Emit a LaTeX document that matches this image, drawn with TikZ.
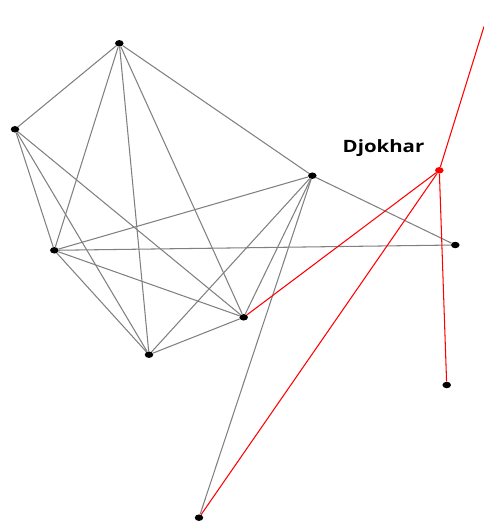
\documentclass[tikz,border=0pt]{standalone}
\usepackage{fontspec}
\usepackage{graphicx}
\usetikzlibrary{shapes.geometric}
\usetikzlibrary{positioning}
\newfontfamily\labelfont{Open Sans}
\tikzstyle{person}=[ellipse, fill=black, draw=none, inner sep=0pt, minimum width=8.5pt, minimum height=6.5pt]
\tikzstyle{suspect}=[person, fill=red]
\tikzstyle{tie}=[draw=black!50, line width=1.05pt]
\tikzstyle{redtie}=[draw=red, line width=1.05pt]
\begin{document}
\begin{tikzpicture}[x=1pt, y=-1pt]
          \useasboundingbox (0,0) rectangle (484,522);
          \node[person] (p0) at (119.3,43.3){};
          \node[person] (p1) at (15,129.3){};
          \node[person] (p2) at (312.3,175.7){};
          \node[suspect] (djokhar) at (439.3,170.3){};
          \node[person] (p3) at (455.3,245){};
          \node[person] (p4) at (54.3,250.3){};
          \node[person] (p5) at (243.7,317.3){};
          \node[person] (p6) at (149,354.7){};
          \node[person] (p7) at (446.7,385){};
          \node[person] (p8) at (199,517.7){};
          \coordinate (out) at (484,26.5);
          \node[inner sep=0pt] (name) at (383.5,148.3){\scalebox{1.2}[1]{\labelfont\bfseries\fontsize{17}{17}\selectfont Djokhar}};
          \draw[tie](p0) -- (p1);
          \draw[tie](p0) -- (p2);
          \draw[tie](p0) -- (p4);
          \draw[tie](p0) -- (p6);
          \draw[tie](p0) -- (p5);
          \draw[tie](p1) -- (p4);
          \draw[tie](p1) -- (p6);
          \draw[tie](p1) -- (p5);
          \draw[tie](p4) -- (p2);
          \draw[tie](p4) -- (p3);
          \draw[tie](p4) -- (p5);
          \draw[tie](p4) -- (p6);
          \draw[tie](p2) -- (p3);
          \draw[tie](p2) -- (p5);
          \draw[tie](p2) -- (p6);
          \draw[tie](p2) -- (p8);
          \draw[tie](p6) -- (p5);
          \draw[redtie](djokhar) -- (p5);
          \draw[redtie](djokhar) -- (p8);
          \draw[redtie](djokhar) -- (p7);
          \draw[redtie](djokhar) -- (out);
        \end{tikzpicture}
\end{document}
